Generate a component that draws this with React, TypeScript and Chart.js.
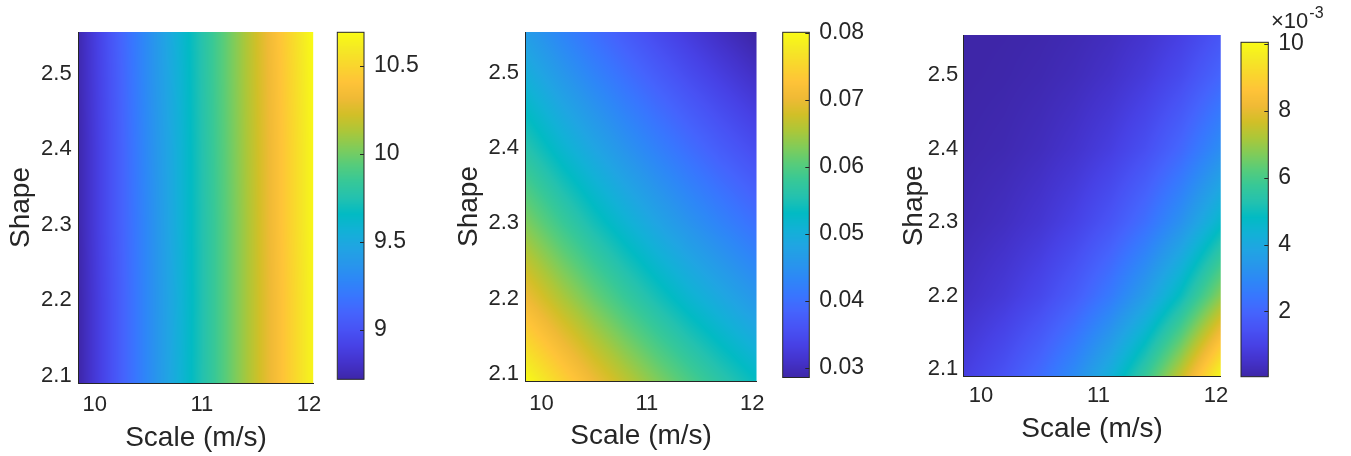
import React, { useEffect, useRef } from "react";
import { Chart, registerables } from "chart.js";

Chart.register(...registerables);

// ---------------- data ----------------
const scaleNodes = [9.85, 10.2, 10.5, 10.8, 11.1, 11.4, 11.7, 12.04];
const shapeNodes = [2.09, 2.2, 2.3, 2.4, 2.5, 2.555];
const scaleTicks = [10, 11, 12];
const shapeTicks = [2.1, 2.2, 2.3, 2.4, 2.5];

// rows follow shapeNodes (bottom to top), columns follow scaleNodes
const meanSpeed = [
  [8.72, 9.03, 9.3, 9.57, 9.83, 10.1, 10.36, 10.66],
  [8.72, 9.03, 9.3, 9.56, 9.83, 10.1, 10.36, 10.66],
  [8.73, 9.04, 9.3, 9.57, 9.83, 10.1, 10.37, 10.67],
  [8.73, 9.04, 9.31, 9.57, 9.84, 10.11, 10.37, 10.67],
  [8.74, 9.05, 9.32, 9.58, 9.85, 10.12, 10.38, 10.68],
  [8.74, 9.06, 9.32, 9.59, 9.85, 10.12, 10.39, 10.69],
];
const cutInProb = [
  [0.08, 0.0746, 0.0703, 0.0665, 0.0629, 0.0596, 0.0565, 0.0533],
  [0.0705, 0.0655, 0.0616, 0.058, 0.0547, 0.0516, 0.0489, 0.0459],
  [0.0629, 0.0582, 0.0545, 0.0512, 0.0481, 0.0453, 0.0428, 0.0401],
  [0.056, 0.0516, 0.0483, 0.0452, 0.0424, 0.0398, 0.0374, 0.035],
  [0.0499, 0.0458, 0.0427, 0.0399, 0.0373, 0.0349, 0.0328, 0.0305],
  [0.0468, 0.0429, 0.0399, 0.0372, 0.0347, 0.0325, 0.0304, 0.0283],
];
// in units of 10^-3
const cutOutProb = [
  [0.91, 1.49, 2.18, 3.09, 4.27, 5.74, 7.53, 10.0],
  [0.43, 0.76, 1.18, 1.77, 2.56, 3.6, 4.92, 6.81],
  [0.2, 0.39, 0.64, 1.02, 1.55, 2.27, 3.23, 4.66],
  [0.09, 0.18, 0.33, 0.56, 0.9, 1.38, 2.06, 3.1],
  [0.03, 0.08, 0.16, 0.29, 0.49, 0.81, 1.26, 2.0],
  [0.02, 0.05, 0.1, 0.2, 0.35, 0.59, 0.95, 1.55],
];

const meanBarRange = [8.72, 10.69];
const meanBarTicks = [9, 9.5, 10, 10.5];
const meanBarLabels = ["9", "9.5", "10", "10.5"];
const cutInBarRange = [0.0286, 0.0801];
const cutInBarTicks = [0.03, 0.04, 0.05, 0.06, 0.07, 0.08];
const cutInBarLabels = ["0.03", "0.04", "0.05", "0.06", "0.07", "0.08"];
const cutOutBarRange = [0.05, 10.05];
const cutOutBarTicks = [2, 4, 6, 8, 10];
const cutOutBarLabels = ["2", "4", "6", "8", "10"];
const cutOutExponent = "-3";

const xTitle = "Scale (m/s)";
const yTitle = "Shape";

// ---------------- styles / layout ----------------
const H = 456;
const FONT = "'Liberation Sans', Arial, Helvetica, sans-serif";
const INK = "#262626";
const TICK_SIZE = 22;
const BAR_SIZE = 23;
const TITLE_SIZE = 28;

// parula colormap stops
const PARULA = [
  [0.2422, 0.1504, 0.6603], [0.2647, 0.1978, 0.7952], [0.2783, 0.2559, 0.8991],
  [0.281, 0.3228, 0.9579], [0.2699, 0.3892, 0.9906], [0.2206, 0.4603, 0.9973],
  [0.1786, 0.5289, 0.9682], [0.154, 0.5902, 0.9218], [0.1248, 0.6459, 0.8883],
  [0.0689, 0.6948, 0.8394], [0.0067, 0.7312, 0.766], [0.1408, 0.7584, 0.6842],
  [0.2161, 0.7843, 0.5923], [0.3406, 0.8008, 0.4789], [0.5044, 0.7993, 0.348],
  [0.672, 0.7793, 0.2227], [0.8203, 0.7498, 0.1535], [0.9393, 0.7288, 0.21],
  [0.997, 0.7659, 0.2199], [0.9786, 0.8386, 0.1766], [0.9597, 0.9135, 0.1423],
  [0.9769, 0.9839, 0.0805],
];

function parula(t: number): [number, number, number] {
  const tt = Math.min(Math.max(t, 0), 1) * (PARULA.length - 1);
  const i = Math.min(Math.floor(tt), PARULA.length - 2);
  const f = tt - i;
  const a = PARULA[i], b = PARULA[i + 1];
  return [
    Math.round((a[0] + (b[0] - a[0]) * f) * 255),
    Math.round((a[1] + (b[1] - a[1]) * f) * 255),
    Math.round((a[2] + (b[2] - a[2]) * f) * 255),
  ];
}

interface Box { L: number; R: number; T: number; B: number }
interface Geo {
  canvasX: number; canvasW: number; plot: Box;
  yTickPad: number; xTickPad: number; yTitlePad: number; xTitlePad: number;
  barX: number; barW: number; bar: Box; barPad: number;
}

const GEOS: Geo[] = [
  { canvasX: 0, canvasW: 330, plot: { L: 78.7, R: 316, T: 32, B: 383 }, yTickPad: 7, xTickPad: 8.6, yTitlePad: 4.8, xTitlePad: 1.2,
    barX: 330, barW: 110, bar: { L: 337.3, R: 364, T: 32.3, B: 379.3 }, barPad: 10 },
  { canvasX: 440, canvasW: 335, plot: { L: 525.7, R: 761, T: 32, B: 381 }, yTickPad: 6.7, xTickPad: 10.2, yTitlePad: 12, xTitlePad: 3.4,
    barX: 775, barW: 105, bar: { L: 782.7, R: 809.3, T: 32.3, B: 377.5 }, barPad: 10 },
  { canvasX: 890, canvasW: 345, plot: { L: 963.3, R: 1222.3, T: 35, B: 376.7 }, yTickPad: 5, xTickPad: 6.5, yTitlePad: 7, xTitlePad: 9.5,
    barX: 1235, barW: 116, bar: { L: 1241, R: 1268.3, T: 42.3, B: 376.7 }, barPad: 10 },
];

// exponent label placement (absolute page coordinates)
const EXP_X = 1271;
const EXP_BASE_Y = 27.5;
const EXP_SUP_Y = 18.2;
const EXP_CLIP_X = 1327;

const FIELDS = [
  { grid: meanSpeed, range: meanBarRange, ticks: meanBarTicks, labels: meanBarLabels, exponent: "" },
  { grid: cutInProb, range: cutInBarRange, ticks: cutInBarTicks, labels: cutInBarLabels, exponent: "" },
  { grid: cutOutProb, range: cutOutBarRange, ticks: cutOutBarTicks, labels: cutOutBarLabels, exponent: cutOutExponent },
];

function bilinear(grid: number[][], xv: number, yv: number): number {
  const xs = scaleNodes, ys = shapeNodes;
  const cx = Math.min(Math.max(xv, xs[0]), xs[xs.length - 1]);
  const cy = Math.min(Math.max(yv, ys[0]), ys[ys.length - 1]);
  let i = 0;
  while (i < xs.length - 2 && cx > xs[i + 1]) i++;
  let j = 0;
  while (j < ys.length - 2 && cy > ys[j + 1]) j++;
  const fx = (cx - xs[i]) / (xs[i + 1] - xs[i]);
  const fy = (cy - ys[j]) / (ys[j + 1] - ys[j]);
  const a = grid[j][i] * (1 - fx) + grid[j][i + 1] * fx;
  const b = grid[j + 1][i] * (1 - fx) + grid[j + 1][i + 1] * fx;
  return a * (1 - fy) + b * fy;
}

function heatConfig(geo: Geo, grid: number[][], range: number[]): any {
  const p = geo.plot;
  const fieldPlugin = {
    id: "heatField",
    beforeDatasetsDraw(chart: any) {
      const { left, right, top, bottom } = chart.chartArea;
      const xs = chart.scales.x, ys = chart.scales.y;
      const x0 = Math.floor(left), y0 = Math.floor(top);
      const w = Math.ceil(right) - x0, h = Math.ceil(bottom) - y0;
      const off = document.createElement("canvas");
      off.width = w; off.height = h;
      const octx = off.getContext("2d")!;
      const img = octx.createImageData(w, h);
      for (let py = 0; py < h; py++) {
        const yv = ys.getValueForPixel(y0 + py + 0.5);
        for (let px = 0; px < w; px++) {
          const xv = xs.getValueForPixel(x0 + px + 0.5);
          const v = bilinear(grid, xv, yv);
          const c = parula((v - range[0]) / (range[1] - range[0]));
          const k = (py * w + px) * 4;
          img.data[k] = c[0]; img.data[k + 1] = c[1]; img.data[k + 2] = c[2]; img.data[k + 3] = 255;
        }
      }
      octx.putImageData(img, 0, 0);
      const ctx = chart.ctx;
      ctx.save();
      ctx.beginPath();
      ctx.rect(left, top, right - left, bottom - top);
      ctx.clip();
      ctx.drawImage(off, x0, y0);
      ctx.restore();
    },
  };
  return {
    type: "scatter",
    data: { datasets: [{ data: [], pointRadius: 0 }] },
    options: {
      responsive: false,
      animation: false,
      events: [],
      layout: { padding: { left: 0, top: p.T, right: geo.canvasX + geo.canvasW - p.R, bottom: 0 } },
      plugins: { legend: { display: false }, tooltip: { enabled: false } },
      scales: {
        x: {
          type: "linear",
          min: scaleNodes[0],
          max: scaleNodes[scaleNodes.length - 1],
          afterBuildTicks: (s: any) => { s.ticks = scaleTicks.map((v) => ({ value: v })); },
          afterFit: (s: any) => { s.height = H - p.B; },
          grid: { display: false, drawTicks: false },
          border: { display: true, color: INK, width: 1, z: 1 },
          ticks: { font: { family: FONT, size: TICK_SIZE }, color: INK, padding: geo.xTickPad, maxRotation: 0, autoSkip: false, callback: (v: any) => String(v) },
          title: { display: true, text: xTitle, font: { family: FONT, size: TITLE_SIZE }, color: INK, padding: { top: 0, bottom: geo.xTitlePad } },
        },
        y: {
          type: "linear",
          min: shapeNodes[0],
          max: shapeNodes[shapeNodes.length - 1],
          afterBuildTicks: (s: any) => { s.ticks = shapeTicks.map((v) => ({ value: v })); },
          afterFit: (s: any) => { s.width = p.L - geo.canvasX; },
          grid: { display: false, drawTicks: false },
          border: { display: true, color: INK, width: 1, z: 1 },
          ticks: { font: { family: FONT, size: TICK_SIZE }, color: INK, padding: geo.yTickPad, autoSkip: false, callback: (v: any) => String(v) },
          title: { display: true, text: yTitle, font: { family: FONT, size: TITLE_SIZE }, color: INK, padding: { top: geo.yTitlePad, bottom: 0 } },
        },
      },
    },
    plugins: [fieldPlugin],
  };
}

function barConfig(geo: Geo, range: number[], ticks: number[], labels: string[], exponent: string): any {
  const b = geo.bar;
  const barPlugin = {
    id: "colorBar",
    beforeDatasetsDraw(chart: any) {
      const { left, right, top, bottom } = chart.chartArea;
      const ys = chart.scales.y;
      const ctx = chart.ctx;
      ctx.save();
      ctx.beginPath();
      ctx.rect(left, top, right - left, bottom - top);
      ctx.clip();
      for (let py = Math.floor(top); py < Math.ceil(bottom); py++) {
        const v = ys.getValueForPixel(py + 0.5);
        const c = parula((v - range[0]) / (range[1] - range[0]));
        ctx.fillStyle = `rgb(${c[0]},${c[1]},${c[2]})`;
        ctx.fillRect(left, py, right - left, 1);
      }
      ctx.restore();
    },
    afterDatasetsDraw(chart: any) {
      const { left, right, top, bottom } = chart.chartArea;
      const ys = chart.scales.y;
      const ctx = chart.ctx;
      ctx.save();
      ctx.strokeStyle = INK;
      ctx.lineWidth = 1;
      ctx.strokeRect(left, top, right - left, bottom - top);
      ticks.forEach((t) => {
        const y = Math.round(ys.getPixelForValue(t)) + 0.5;
        ctx.beginPath();
        ctx.moveTo(right - 4, y);
        ctx.lineTo(right, y);
        ctx.stroke();
      });
      if (exponent) {
        ctx.beginPath();
        ctx.rect(0, 0, EXP_CLIP_X - geo.barX, 40);
        ctx.clip();
        ctx.fillStyle = INK;
        ctx.textBaseline = "alphabetic";
        ctx.textAlign = "left";
        ctx.font = `22px ${FONT}`;
        const base = "\u00d710";
        const x = EXP_X - geo.barX;
        ctx.fillText(base, x, EXP_BASE_Y);
        const wBase = ctx.measureText(base).width;
        ctx.font = `16px ${FONT}`;
        ctx.fillText(exponent, x + wBase + 1, EXP_SUP_Y);
      }
      ctx.restore();
    },
  };
  return {
    type: "scatter",
    data: { datasets: [{ data: [], pointRadius: 0 }] },
    options: {
      responsive: false,
      animation: false,
      events: [],
      layout: { padding: { left: b.L - geo.barX, top: b.T, right: 0, bottom: H - b.B } },
      plugins: { legend: { display: false }, tooltip: { enabled: false } },
      scales: {
        x: { display: false, min: 0, max: 1 },
        y: {
          type: "linear",
          position: "right",
          min: range[0],
          max: range[1],
          afterBuildTicks: (s: any) => { s.ticks = ticks.map((v) => ({ value: v })); },
          afterFit: (s: any) => { s.width = geo.barX + geo.barW - b.R; },
          grid: { display: false, drawTicks: false },
          border: { display: false },
          ticks: {
            font: { family: FONT, size: BAR_SIZE },
            color: INK,
            padding: geo.barPad,
            autoSkip: false,
            callback: (_v: any, i: number) => labels[i],
          },
        },
      },
    },
    plugins: [barPlugin],
  };
}

export default function App() {
  const heatRefs = useRef<(HTMLCanvasElement | null)[]>([]);
  const barRefs = useRef<(HTMLCanvasElement | null)[]>([]);

  useEffect(() => {
    const charts: Chart[] = [];
    GEOS.forEach((geo, i) => {
      const f = FIELDS[i];
      const hc = heatRefs.current[i];
      const bc = barRefs.current[i];
      if (hc) charts.push(new Chart(hc, heatConfig(geo, f.grid, f.range)));
      if (bc) charts.push(new Chart(bc, barConfig(geo, f.range, f.ticks, f.labels, f.exponent)));
    });
    return () => charts.forEach((c) => c.destroy());
  }, []);

  return (
    <div style={{ position: "absolute", left: 0, top: 0, width: 1351, height: H, background: "#ffffff", overflow: "hidden" }}>
      {GEOS.map((g, i) => (
        <React.Fragment key={i}>
          <canvas
            ref={(el) => { heatRefs.current[i] = el; }}
            width={g.canvasW}
            height={H}
            style={{ position: "absolute", left: g.canvasX, top: 0, width: g.canvasW, height: H }}
          />
          <canvas
            ref={(el) => { barRefs.current[i] = el; }}
            width={g.barW}
            height={H}
            style={{ position: "absolute", left: g.barX, top: 0, width: g.barW, height: H }}
          />
        </React.Fragment>
      ))}
    </div>
  );
}
